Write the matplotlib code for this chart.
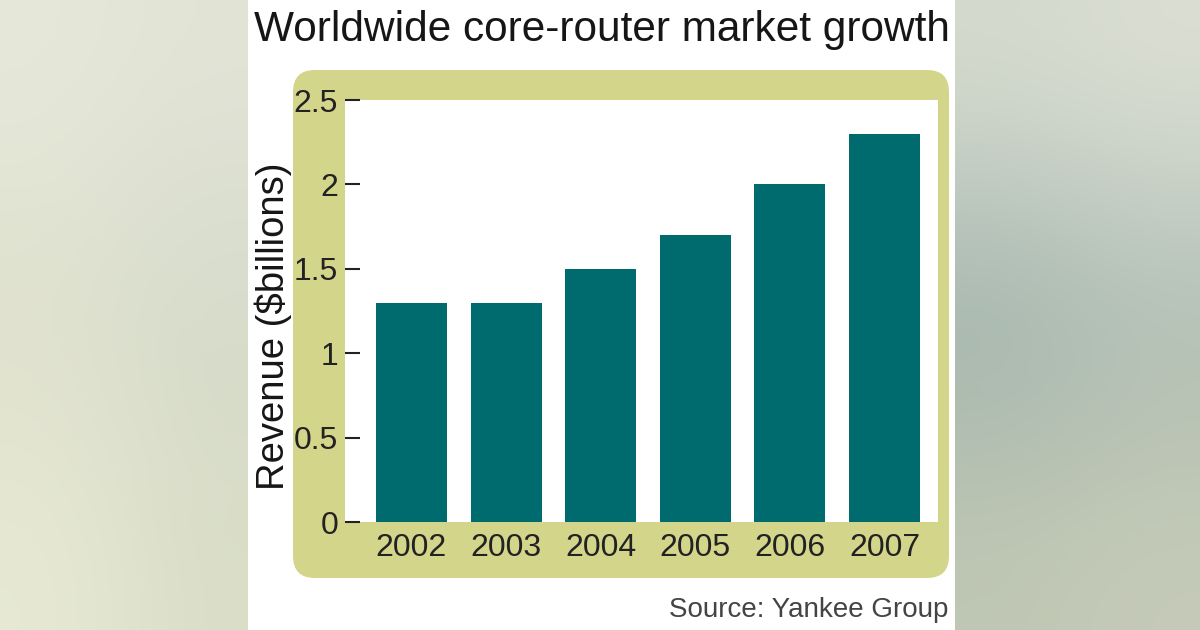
import numpy as np
import matplotlib.pyplot as plt
from matplotlib.patches import FancyBboxPatch, Rectangle

years = ['2002', '2003', '2004', '2005', '2006', '2007']
revenue = [1.3, 1.3, 1.5, 1.7, 2.0, 2.3]
y_ticks = [0, 0.5, 1, 1.5, 2, 2.5]
y_tick_labels = ['0', '0.5', '1', '1.5', '2', '2.5']

plt.rcParams['font.family'] = ['Liberation Sans', 'DejaVu Sans']

W, H = 1200, 630
fig = plt.figure(figsize=(12, 6.3), dpi=100)


def box(x0, y0, x1, y1):
    # pixel box (top-left origin) -> figure fraction rect
    return [x0 / W, 1 - y1 / H, (x1 - x0) / W, (y1 - y0) / H]


# backdrop layer in pixel coordinates
bg = fig.add_axes([0, 0, 1, 1])
bg.set_xlim(0, W)
bg.set_ylim(H, 0)
bg.axis('off')

left_bg = np.array([[[230, 232, 218], [226, 228, 214]],
                    [[222, 224, 204], [212, 218, 202]],
                    [[231, 233, 213], [218, 222, 200]]]) / 255
right_bg = np.array([[[214, 219, 206], [220, 223, 212]],
                     [[158, 177, 172], [172, 188, 178]],
                     [[192, 200, 180], [198, 203, 184]]]) / 255
bg.imshow(left_bg, extent=(0, 248, H, 0), aspect='auto', interpolation='bicubic')
bg.imshow(right_bg, extent=(955, W, H, 0), aspect='auto', interpolation='bicubic')
bg.add_patch(Rectangle((248, 0), 707, H, facecolor='white', edgecolor='none'))
bg.add_patch(FancyBboxPatch((293, 70), 656, 508,
                            boxstyle='round,pad=0,rounding_size=22',
                            facecolor='#d3d58b', edgecolor='none'))
bg.set_xlim(0, W)
bg.set_ylim(H, 0)

ax = fig.add_axes(box(345, 100, 938, 522))
x = np.arange(len(years))
ax.bar(x, revenue, width=0.75, color='#006b6e')
ax.set_xlim(-0.703, 5.566)
ax.set_ylim(0, 2.5)
ax.set_xticks(x)
ax.set_xticklabels(years)
ax.set_yticks(y_ticks)
ax.set_yticklabels(y_tick_labels)
for s in ax.spines.values():
    s.set_visible(False)
ax.tick_params(axis='y', direction='in', length=11, width=1.5, color='#222222',
               pad=5, labelsize=23, labelcolor='#222222')
ax.tick_params(axis='x', length=0, pad=8, labelsize=23, labelcolor='#222222')

fig.text(254 / W, 1 - 30 / H, 'Worldwide core-router market growth',
         fontsize=30.5, color='#161616', ha='left', va='center')
fig.text(273 / W, 1 - 326 / H, 'Revenue ($billions)', rotation=90,
         fontsize=27.5, color='#161616', ha='center', va='center')
fig.text(948 / W, 1 - 610 / H, 'Source: Yankee Group',
         fontsize=20, color='#444444', ha='right', va='center')

fig.savefig('out.png', dpi=100)
